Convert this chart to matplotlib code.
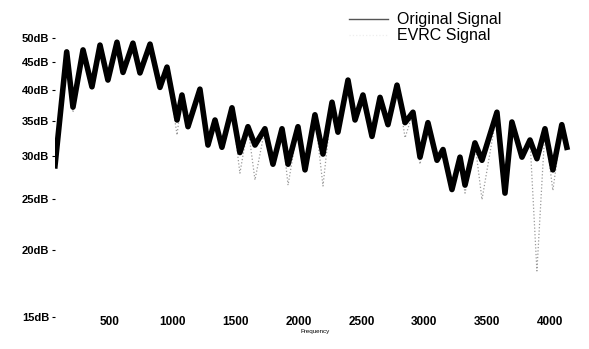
import numpy as np
import matplotlib
matplotlib.use("Agg")
import matplotlib.pyplot as plt
from matplotlib.ticker import FixedLocator, NullLocator

# --- data ---
freq_hz = [63, 156, 206, 286, 357, 421, 484, 556, 604, 683, 739, 819, 898, 954,
           1034, 1073, 1121, 1216, 1280, 1336, 1391, 1471, 1534, 1598, 1654, 1733,
           1797, 1869, 1917, 1996, 2052, 2131, 2195, 2267, 2314, 2394, 2450, 2513,
           2585, 2649, 2712, 2784, 2848, 2911, 2967, 3030, 3102, 3150, 3221, 3285,
           3325, 3404, 3460, 3579, 3643, 3698, 3778, 3842, 3897, 3961, 4024, 4095,
           4135]

original_db = [28.8, 47.1, 37.1, 47.5, 40.5, 48.5, 41.7, 49.1, 43.1, 48.9, 43.0, 48.7,
               40.4, 44.1, 35.1, 39.1, 34.1, 40.1, 31.5, 35.1, 31.2, 37.0, 30.5, 34.1,
               31.5, 33.8, 29.0, 33.8, 29.0, 34.1, 28.3, 35.9, 30.3, 37.9, 33.3, 41.7,
               35.1, 39.1, 32.7, 38.7, 34.4, 40.8, 34.7, 36.3, 29.9, 34.7, 29.5, 30.9,
               26.0, 29.9, 26.5, 31.8, 29.5, 36.3, 25.6, 34.8, 29.9, 32.2, 29.7, 33.8,
               28.3, 34.4, 31.2]

evrc_db = [28.8, 47.1, 36.3, 47.5, 40.5, 48.5, 41.7, 49.1, 43.1, 48.9, 43.0, 48.7,
           40.4, 44.1, 32.9, 39.1, 34.1, 40.1, 31.5, 35.1, 31.2, 37.0, 27.9, 34.1,
           27.1, 33.8, 29.0, 33.8, 26.5, 34.1, 28.3, 35.9, 26.4, 37.9, 33.3, 41.7,
           35.1, 39.1, 32.7, 38.7, 34.4, 40.8, 32.5, 36.3, 29.0, 34.7, 29.5, 30.9,
           26.0, 29.9, 25.6, 31.8, 24.9, 36.3, 25.6, 34.8, 29.9, 32.2, 18.3, 33.8,
           25.9, 34.4, 31.2]

y_ticks = [15, 20, 25, 30, 35, 40, 45, 50]
y_labels = [f"{v}dB" for v in y_ticks]
x_ticks = [500, 1000, 1500, 2000, 2500, 3000, 3500, 4000]

plt.rcParams['font.family'] = ['Liberation Sans', 'DejaVu Sans']

fig = plt.figure(figsize=(5.89, 3.49), dpi=100)
ax = fig.add_axes([55 / 589, 32 / 349, 520 / 589, 279 / 349])

evrc_line, = ax.plot(freq_hz, evrc_db, color="#9a9a9a", linewidth=0.9, linestyle=":",
                     label="EVRC Signal", zorder=2)
orig_line, = ax.plot(freq_hz, original_db, color="black", linewidth=4.0,
                     solid_joinstyle="round", label="Original Signal", zorder=3)

ax.set_yscale("log")
ax.set_ylim(15, 50)
ax.set_xlim(63, 4200)
ax.yaxis.set_major_locator(FixedLocator(y_ticks))
ax.yaxis.set_minor_locator(NullLocator())
ax.set_yticklabels(y_labels, fontsize=8, fontweight="bold")
ax.set_xticks(x_ticks)
ax.set_xticklabels([str(v) for v in x_ticks], fontsize=8.5, fontweight="bold")
ax.tick_params(axis="y", direction="out", length=2, width=0.8, pad=2)
ax.tick_params(axis="x", length=0, pad=-1)
ax.set_xlabel("Frequency", fontsize=4.5, labelpad=1)
for s in ax.spines.values():
    s.set_visible(False)

leg = fig.legend(handles=[orig_line, evrc_line], loc="upper left",
                 bbox_to_anchor=(343 / 589, 1 - 6 / 349), frameon=False, fontsize=11.5,
                 handlelength=2.4, handletextpad=0.6, labelspacing=0.05, borderaxespad=0)
leg.legend_handles[0].set_linewidth(1.0)
leg.legend_handles[0].set_color("#555555")
leg.legend_handles[1].set_color("#eeeeee")

fig.savefig("out.png", dpi=100)
